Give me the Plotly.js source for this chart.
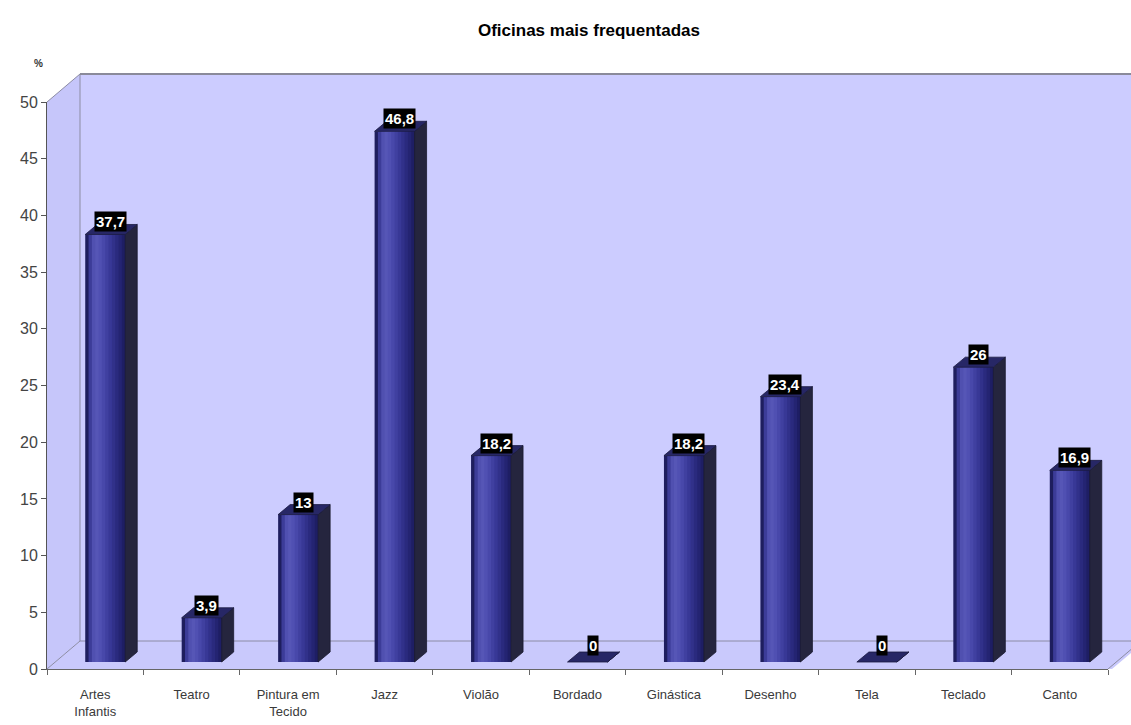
<!DOCTYPE html>
<html>
<head>
<meta charset="utf-8">
<script src="https://cdn.plot.ly/plotly-3.0.1.min.js"></script>
<style>html,body{margin:0;padding:0;background:#fff;}#chart{width:1131px;height:725px;}</style>
</head>
<body>
<div id="chart"></div>
<script>
// ---- data ----
const categories = ['Artes<br>Infantis','Teatro','Pintura em<br>Tecido','Jazz','Violão','Bordado','Ginástica','Desenho','Tela','Teclado','Canto'];
const values = [37.7, 3.9, 13, 46.8, 18.2, 0, 18.2, 23.4, 0, 26, 16.9];
const valueLabels = ['37,7','3,9','13','46,8','18,2','0','18,2','23,4','0','26','16,9'];
const yTickVals = [0,5,10,15,20,25,30,35,40,45,50];
const yTickText = ['0','5','10','15','20','25','30','35','40','45','50'];
const chartTitle = 'Oficinas mais frequentadas';
const yUnit = '%';

// ---- geometry (pixel-based 3D illusion) ----
const W = 1131, H = 725;
const mL = 47, mR = 23, mT = 102, mB = 56;
const plotW = W - mL - mR, plotH = H - mT - mB;
const pxX = plotW / 11;      // px per category unit
const pxY = plotH / 50;      // px per value unit
const idx = categories.map((_, i) => i);

const frontW = 40 / pxX;            // bar front face width
const frontOff = -10 / pxX;         // left edge offset from category centre
const base0 = 7 / pxY;              // bar baseline lift (depth)
const sideDx = 12 / pxX, sideDy = 10 / pxY;

const grad = ['#1e1e5e','#3c3c98','#5050b0','#5656b6','#5050b2','#4848aa','#4040a0','#383896','#31318a','#2a2a7e','#242472','#1e1e64'];
const N = grad.length;
const traces = [];
// painter's approach: each strip runs to the right edge, overlapping the previous ones
for (let k = 0; k < N; k++) {
  const off = frontOff + k * frontW / N;
  traces.push({
    type: 'bar', x: idx, y: values, base: base0,
    width: frontW - k * frontW / N, offset: off,
    marker: {color: grad[k], line: {width: 0}},
    hoverinfo: 'skip', showlegend: false
  });
}
// side and top faces
const sx = [], sy = [], tx = [], ty = [];
values.forEach((v, i) => {
  const xl = i + frontOff, xr = i + frontOff + frontW;
  const b = base0, t = base0 + v;
  sx.push(xr, xr + sideDx, xr + sideDx, xr, xr, null);
  sy.push(b, b + sideDy, t + sideDy, t, b, null);
  tx.push(xl, xr, xr + sideDx, xl + sideDx, xl, null);
  ty.push(t, t, t + sideDy, t + sideDy, t, null);
});
traces.push({type:'scatter', mode:'lines', x: sx, y: sy, fill:'toself', fillcolor:'#25253e',
  line:{color:'#1a1a30', width:0.8}, hoverinfo:'skip', showlegend:false, connectgaps:false});
traces.push({type:'scatter', mode:'lines', x: tx, y: ty, fill:'toself', fillcolor:'#272766',
  line:{color:'#1a1a40', width:0.8}, hoverinfo:'skip', showlegend:false, connectgaps:false});

// wall shapes in paper coords
const px2x = p => (p - mL) / plotW;
const py2y = p => (H - mB - p) / plotH;
const dX = 33 / plotW, dY = 28 / plotH;
const wallTop = py2y(74), rightEnd = px2x(1145);
const wallFill = '#ccccff', edge = '#8c8ca4';
const shapes = [
  {type:'path', xref:'paper', yref:'paper', layer:'below',
   path:`M ${dX} ${dY} L ${dX} ${wallTop} L ${rightEnd} ${wallTop} L ${rightEnd} ${dY} Z`,
   fillcolor: wallFill, line:{width:0}},
  {type:'path', xref:'paper', yref:'paper', layer:'below',
   path:`M 0 0 L 0 1 L ${dX} ${wallTop} L ${dX} ${dY} Z`,
   fillcolor: '#c6c6fa', line:{width:0}},
  {type:'path', xref:'paper', yref:'paper', layer:'below',
   path:`M 0 0 L ${dX} ${dY} L ${rightEnd} ${dY} L ${rightEnd - dX} 0 Z`,
   fillcolor: '#c9c9fc', line:{width:0}},
  {type:'line', xref:'paper', yref:'paper', layer:'below', x0:dX, x1:dX, y0:dY, y1:wallTop, line:{color:edge, width:1}},
  {type:'line', xref:'paper', yref:'paper', layer:'below', x0:dX, x1:rightEnd, y0:wallTop, y1:wallTop, line:{color:'#8a8a9a', width:2}},
  {type:'line', xref:'paper', yref:'paper', layer:'below', x0:dX, x1:rightEnd, y0:dY, y1:dY, line:{color:edge, width:1}},
  {type:'line', xref:'paper', yref:'paper', layer:'below', x0:0, x1:dX, y0:1, y1:wallTop, line:{color:edge, width:1}},
  {type:'line', xref:'paper', yref:'paper', layer:'below', x0:0, x1:dX, y0:0, y1:dY, line:{color:edge, width:1}},
  {type:'line', xref:'paper', yref:'paper', layer:'below', x0:1, x1:1 + dX, y0:0, y1:dY, line:{color:edge, width:1}}
];

const annotations = values.map((v, i) => ({
  x: i + 15 / pxX, y: base0 + v, xref:'x', yref:'y',
  text: '<b>' + valueLabels[i] + '</b>', showarrow:false,
  yanchor:'bottom', xanchor:'center', yshift: (v === 0 ? 6 : 2),
  bgcolor:'#000000', borderpad:1,
  font:{family:'Liberation Sans, Arial, sans-serif', size:15, color:'#ffffff'}
}));
annotations.push({
  text:'<b>' + yUnit + '</b>', xref:'paper', yref:'paper', x: px2x(38), y: py2y(64),
  showarrow:false, xanchor:'center', yanchor:'middle',
  font:{family:'Liberation Sans, Arial, sans-serif', size:10, color:'#333'}
});

const layout = {
  width: W, height: H,
  margin: {l: mL, r: mR, t: mT, b: mB, pad: 0},
  paper_bgcolor:'#ffffff', plot_bgcolor:'rgba(0,0,0,0)',
  barmode:'overlay', showlegend:false,
  title: {text:'<b>' + chartTitle + '</b>', x: 589 / W, xref:'container', xanchor:'center',
          y: 1 - 30 / H, yref:'container', yanchor:'middle',
          font:{family:'Liberation Sans, Arial, sans-serif', size:17, color:'#000'}},
  xaxis: {range:[-0.5, 10.5], tickmode:'array', tickvals: idx, ticktext: categories,
          ticks:'', showgrid:false, zeroline:false, showline:true, linecolor:'#666', linewidth:1,
          tickfont:{family:'Liberation Sans Narrow, Arial Narrow, Liberation Sans, Arial, sans-serif', size:13, color:'#3a3a3a'},
          ticklabelstandoff: 13,
          minor:{tick0:-0.5, dtick:1, ticks:'outside', ticklen:5, tickcolor:'#666', tickwidth:1, showgrid:false},
          fixedrange:true},
  yaxis: {range:[0, 50], tickmode:'array', tickvals: yTickVals, ticktext: yTickText,
          ticks:'outside', ticklen:5, tickcolor:'#555', showgrid:false, zeroline:false,
          showline:true, linecolor:'#555', linewidth:1,
          tickfont:{family:'Liberation Sans, Arial, sans-serif', size:16, color:'#444'},
          fixedrange:true},
  shapes: shapes,
  annotations: annotations
};

Plotly.newPlot('chart', traces, layout, {displayModeBar:false, staticPlot:true});
</script>
</body>
</html>
